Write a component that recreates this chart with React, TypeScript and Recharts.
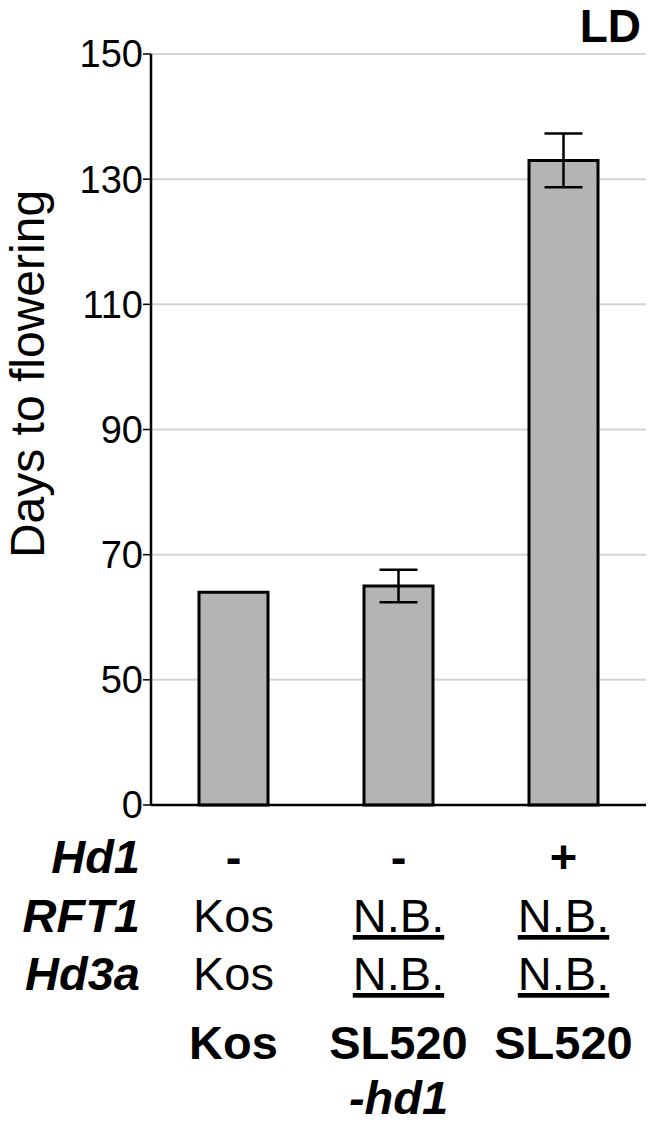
import React from "react";
import { BarChart, Bar, XAxis, YAxis, CartesianGrid, ErrorBar } from "recharts";

const strains = ["Kos", "SL520", "SL520"];
const strainSuffix = ["", "-hd1", ""];
const daysToFlowering = [64, 65, 133];
const daysSd = [0, 2.6, 4.3];
const hd1Alleles = ["-", "-", "+"];
const rft1Alleles = ["Kos", "N.B.", "N.B."];
const hd3aAlleles = ["Kos", "N.B.", "N.B."];
const yTickValues = [0, 50, 70, 90, 110, 130, 150];

const FONT = "'Liberation Sans', Arial, Helvetica, sans-serif";

// the y axis is broken: 0-50 is squeezed into the height of 20 days
const toAxis = (v: number) => (v <= 50 ? (v * 20) / 50 : v - 30);
const fromAxis = (t: number) => (t <= 20 ? (t * 50) / 20 : t + 30);

const data = strains.map((s, i) => {
  const v = daysToFlowering[i];
  const sd = daysSd[i];
  return {
    id: i,
    strain: s,
    days: toAxis(v),
    err: sd ? [toAxis(v) - toAxis(v - sd), toAxis(v + sd) - toAxis(v)] : null,
  };
});

function GenotypeTick(props: any) {
  const { x, y, payload } = props;
  const i = payload.index ?? payload.value;
  const txt = { textAnchor: "middle" as const, fontSize: 47, fill: "#000", fontFamily: FONT };
  const nb = (s: string) => (s === "N.B." ? "underline" : "none");
  return (
    <g>
      <text x={x} y={y + 68} {...txt} fontWeight="bold">{hd1Alleles[i]}</text>
      <text x={x} y={y + 127} {...txt} style={{ textDecoration: nb(rft1Alleles[i]) }}>{rft1Alleles[i]}</text>
      <text x={x} y={y + 185} {...txt} style={{ textDecoration: nb(hd3aAlleles[i]) }}>{hd3aAlleles[i]}</text>
      <text x={x} y={y + 254} {...txt} fontWeight="bold">{strains[i]}</text>
      {strainSuffix[i] && (
        <text x={x} y={y + 309} {...txt} fontWeight="bold" fontStyle="italic">{strainSuffix[i]}</text>
      )}
    </g>
  );
}

export default function App() {
  const rowLabels = ["Hd1", "RFT1", "Hd3a"];
  const rowY = [873, 932, 990];
  return (
    <div style={{ position: "absolute", left: 0, top: 0, width: 653, height: 1125, background: "#fff" }}>
      <BarChart
        width={653}
        height={1125}
        data={data}
        margin={{ top: 54, right: 7, bottom: 0, left: 0 }}
        barSize={69}
        style={{ fontFamily: FONT }}
      >
        <CartesianGrid vertical={false} stroke="#d4d4d4" strokeWidth={2} />
        <XAxis
          dataKey="id"
          height={320}
          axisLine={{ stroke: "#000", strokeWidth: 2.5 }}
          tickLine={false}
          tickSize={0}
          tickMargin={0}
          interval={0}
          tick={<GenotypeTick />}
        />
        <XAxis xAxisId="top" orientation="top" dataKey="id" height={0} tick={false} tickLine={false} axisLine={{ stroke: "#000", strokeWidth: 2.5 }} />
        <YAxis
          type="number"
          domain={[0, 120]}
          ticks={yTickValues.map(toAxis)}
          tickFormatter={(t: number) => String(Math.round(fromAxis(t)))}
          width={151}
          axisLine={{ stroke: "#000", strokeWidth: 2.5 }}
          tickLine={{ stroke: "#000", strokeWidth: 1.5 }}
          tickSize={8}
          tickMargin={0}
          tick={{ fill: "#000", fontSize: 38, fontFamily: FONT }}
        />
        <YAxis yAxisId="r" orientation="right" width={0} tick={false} tickLine={false} axisLine={{ stroke: "#000", strokeWidth: 2.5 }} />
        <Bar dataKey="days" fill="#b4b4b4" stroke="#000" strokeWidth={3} isAnimationActive={false}>
          <ErrorBar dataKey="err" width={19} stroke="#000" strokeWidth={2.5} isAnimationActive={false} />
        </Bar>
      </BarChart>
      <svg width={653} height={1125} style={{ position: "absolute", left: 0, top: 0, pointerEvents: "none" }}>
        <text x={641} y={42} textAnchor="end" fontSize={46} fontWeight="bold" fontFamily={FONT}>LD</text>
        <text transform="translate(44, 374) rotate(-90)" textAnchor="middle" fontSize={48} fontFamily={FONT}>
          Days to flowering
        </text>
        {rowLabels.map((r, k) => (
          <text key={r} x={140} y={rowY[k]} textAnchor="end" fontSize={47} fontWeight="bold" fontStyle="italic" fontFamily={FONT}>
            {r}
          </text>
        ))}
      </svg>
    </div>
  );
}
